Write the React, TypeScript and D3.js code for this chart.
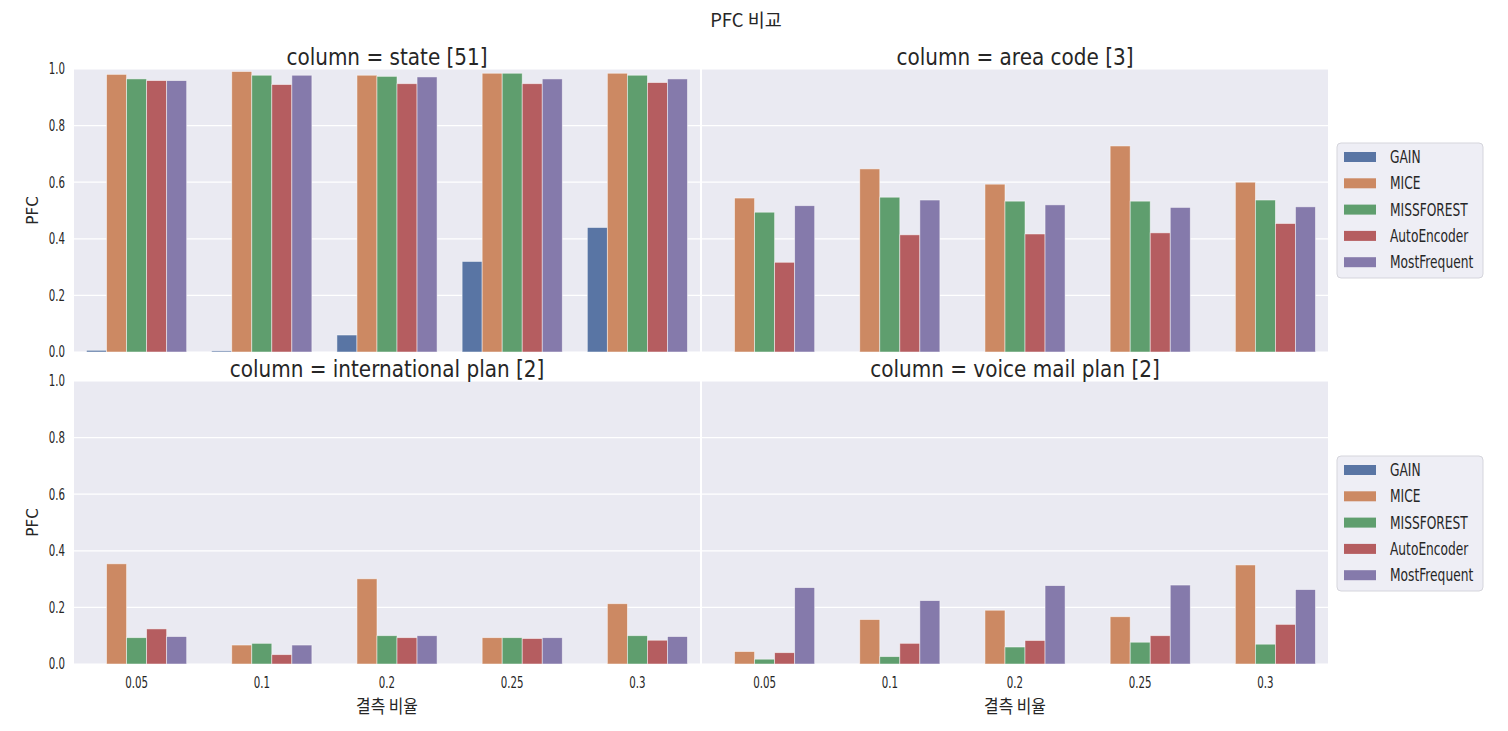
import React from 'react';
import * as d3 from 'd3';

const rates = ['0.05', '0.1', '0.2', '0.25', '0.3'];
const methods = ['GAIN', 'MICE', 'MISSFOREST', 'AutoEncoder', 'MostFrequent'];
const colors = ['#5975a4', '#cc8963', '#5f9e6e', '#b55d60', '#857aab'];
const panelTitles = ['column = state [51]', 'column = area code [3]', 'column = international plan [2]', 'column = voice mail plan [2]'];
const yTicks = [0, 0.2, 0.4, 0.6, 0.8, 1.0];

// rows = missing rate, columns = methods
const stateVals = [
  [0.006, 0.981, 0.965, 0.959, 0.959],
  [0.004, 0.991, 0.978, 0.945, 0.978],
  [0.06, 0.978, 0.974, 0.948, 0.972],
  [0.32, 0.985, 0.985, 0.948, 0.965],
  [0.44, 0.985, 0.978, 0.952, 0.965],
];
const areaVals = [
  [0, 0.544, 0.494, 0.317, 0.517],
  [0, 0.647, 0.547, 0.414, 0.537],
  [0, 0.593, 0.533, 0.417, 0.52],
  [0, 0.728, 0.533, 0.421, 0.511],
  [0, 0.6, 0.537, 0.454, 0.513],
];
const intlVals = [
  [0, 0.354, 0.093, 0.124, 0.097],
  [0, 0.067, 0.073, 0.033, 0.067],
  [0, 0.301, 0.1, 0.093, 0.1],
  [0, 0.093, 0.093, 0.09, 0.093],
  [0, 0.213, 0.1, 0.084, 0.097],
];
const voiceVals = [
  [0, 0.044, 0.017, 0.04, 0.27],
  [0, 0.157, 0.026, 0.073, 0.224],
  [0, 0.19, 0.06, 0.083, 0.277],
  [0, 0.167, 0.077, 0.1, 0.279],
  [0, 0.35, 0.07, 0.14, 0.263],
];
const panelData = [stateVals, areaVals, intlVals, voiceVals];

const W = 1508;
const H = 731;
const FONT = '"DejaVu Sans", "Noto Sans CJK KR", sans-serif';
const KFONT = '"Noto Sans CJK KR", "DejaVu Sans", sans-serif';
const INK = '#262626';

const colX = [74, 702];
const panelW = 626;
const rowY = [69, 381];
const panelH = 283;

// the reference font is narrow, so squeeze some labels horizontally
const T = ({ x, y, size, sx = 1, anchor = 'start', family = FONT, rot = false, dy, children }: any) => (
  <text transform={`translate(${x},${y})${rot ? ' rotate(-90)' : ''} scale(${sx},1)`} dy={dy}
    textAnchor={anchor} fontSize={size} fill={INK} fontFamily={family}>{children}</text>
);

const Panel = ({ idx }: { idx: number }) => {
  const col = idx % 2;
  const row = Math.floor(idx / 2);
  const x0 = colX[col];
  const y0 = rowY[row];
  const data = panelData[idx];

  const x = d3.scaleBand().domain(rates).range([0, panelW]).paddingInner(0.2).paddingOuter(0.1);
  const inner = d3.scaleBand().domain(methods).range([0, x.bandwidth()]);
  const y = d3.scaleLinear().domain([0, 1]).range([panelH, 0]);

  return (
    <g transform={`translate(${x0},${y0})`}>
      <rect width={panelW} height={panelH} fill="#eaeaf2" />
      {yTicks.map(t => (
        <line key={t} x1={0} x2={panelW} y1={y(t)} y2={y(t)} stroke="#fff" strokeWidth={1.2} />
      ))}
      {rates.map((r, i) => (
        <g key={r} transform={`translate(${x(r)},0)`}>
          {methods.map((m, j) => {
            const v = data[i][j];
            if (v <= 0) return null;
            return (
              <rect key={m} x={inner(m)} y={y(v)} width={inner.bandwidth()} height={panelH - y(v)}
                fill={colors[j]} stroke="#fff" strokeOpacity={0.6} strokeWidth={0.8} />
            );
          })}
        </g>
      ))}
      <T x={panelW / 2} y={-4} size={23} sx={0.87} anchor="middle">{panelTitles[idx]}</T>
      {col === 0 && yTicks.map(t => (
        <T key={t} x={-9} y={y(t)} dy="0.35em" size={15.5} sx={0.66} anchor="end">{t.toFixed(1)}</T>
      ))}
      {col === 0 && (
        <T x={-36} y={panelH / 2} rot size={16} sx={0.95} anchor="middle">PFC</T>
      )}
      {row === 1 && rates.map(r => (
        <T key={r} x={(x(r) || 0) + x.bandwidth() / 2} y={panelH + 24} size={15.5} sx={0.66} anchor="middle">{r}</T>
      ))}
      {row === 1 && (
        <T x={panelW / 2} y={panelH + 49} size={18} sx={0.88} anchor="middle" family={KFONT}>결측 비율</T>
      )}
    </g>
  );
};

const Legend = ({ top }: { top: number }) => (
  <g transform={`translate(1337,${top})`}>
    <rect width={146} height={135} rx={4} fill="#eaeaf2" fillOpacity={0.8} stroke="#d5d5dc" />
    {methods.map((m, i) => (
      <g key={m} transform={`translate(0,${14 + i * 26.3})`}>
        <rect x={7} y={-5} width={32} height={10} fill={colors[i]} />
        <T x={53} y={0} dy="0.35em" size={17} sx={0.72}>{m}</T>
      </g>
    ))}
  </g>
);

export default function App() {
  return (
    <svg width={W} height={H} style={{ display: 'block', margin: -8 }}>
      <rect width={W} height={H} fill="#fff" />
      <T x={746} y={27} size={18.5} anchor="middle" family={KFONT}>PFC 비교</T>
      {[0, 1, 2, 3].map(i => <Panel key={i} idx={i} />)}
      <Legend top={143} />
      <Legend top={456} />
    </svg>
  );
}
